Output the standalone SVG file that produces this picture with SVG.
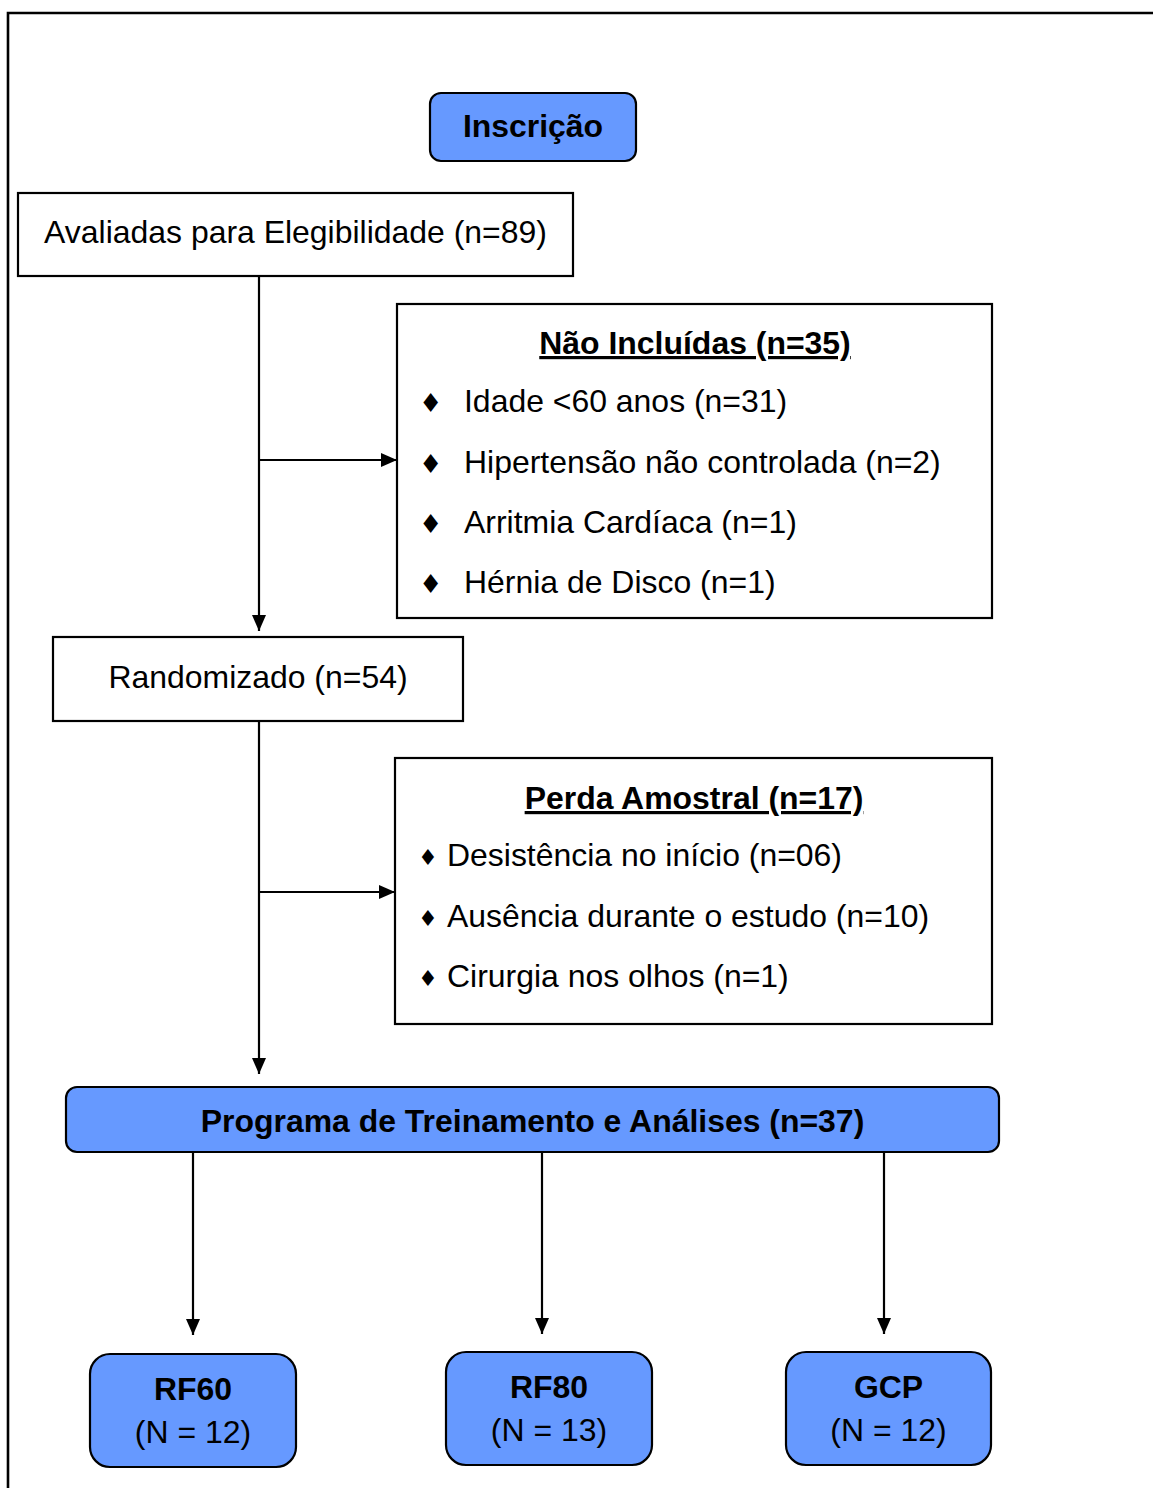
<svg xmlns="http://www.w3.org/2000/svg" width="1153" height="1488" viewBox="0 0 1153 1488">
<style>
.box{fill:#fff;stroke:#000;stroke-width:2.2}
.blue{fill:#6699FF;stroke:#000;stroke-width:2.2}
.t{font-family:"Liberation Sans",Arial,sans-serif;font-size:31.95px;fill:#000}
.b{font-weight:bold}
.c{text-anchor:middle}
.bul{font-family:"DejaVu Sans",sans-serif;font-size:26px;fill:#000}
.bul2{font-family:"DejaVu Sans",sans-serif;font-size:22px;fill:#000}
.ln{stroke:#000;stroke-width:2.2;fill:none}
</style>
<defs>
<marker id="ah" markerWidth="16" markerHeight="14" refX="16" refY="7" orient="auto" markerUnits="userSpaceOnUse" viewBox="0 0 16 14">
<path d="M0,0 L16,7 L0,14 Z" fill="#000"/>
</marker>
</defs>
<rect width="1153" height="1488" fill="#fff"/>
<path d="M8,1488 V13 H1153" fill="none" stroke="#000" stroke-width="2.6"/>

<g id="connectors">
<path class="ln" d="M259,276 V631" marker-end="url(#ah)"/>
<path class="ln" d="M259,460 H397" marker-end="url(#ah)"/>
<path class="ln" d="M259,721 V1074" marker-end="url(#ah)"/>
<path class="ln" d="M259,892 H395" marker-end="url(#ah)"/>
<path class="ln" d="M193,1152 V1335" marker-end="url(#ah)"/>
<path class="ln" d="M542,1152 V1334" marker-end="url(#ah)"/>
<path class="ln" d="M884,1152 V1334" marker-end="url(#ah)"/>
</g>

<g id="inscricao">
<rect class="blue" x="430" y="93" width="206" height="68" rx="11"/>
<text class="t b c" x="533" y="137">Inscrição</text>
</g>

<g id="avaliadas">
<rect class="box" x="18" y="193" width="555" height="83"/>
<text class="t c" x="295.5" y="243">Avaliadas para Elegibilidade (n=89)</text>
</g>

<g id="nao-incluidas">
<rect class="box" x="397" y="304" width="595" height="314"/>
<text class="t b c" x="695" y="354" text-decoration="underline">Não Incluídas (n=35)</text>
<text class="bul" x="419" y="412">♦</text>
<text class="t" x="464" y="412">Idade &lt;60 anos (n=31)</text>
<text class="bul" x="419" y="473">♦</text>
<text class="t" x="464" y="473">Hipertensão não controlada (n=2)</text>
<text class="bul" x="419" y="533">♦</text>
<text class="t" x="464" y="533">Arritmia Cardíaca (n=1)</text>
<text class="bul" x="419" y="593">♦</text>
<text class="t" x="464" y="593">Hérnia de Disco (n=1)</text>
</g>

<g id="randomizado">
<rect class="box" x="53" y="637" width="410" height="84"/>
<text class="t c" x="258" y="688">Randomizado (n=54)</text>
</g>

<g id="perda-amostral">
<rect class="box" x="395" y="758" width="597" height="266"/>
<text class="t b c" x="694" y="809" text-decoration="underline">Perda Amostral (n=17)</text>
<text class="bul2" x="418" y="865">♦</text>
<text class="t" x="447" y="866">Desistência no início (n=06)</text>
<text class="bul2" x="418" y="926">♦</text>
<text class="t" x="447" y="927">Ausência durante o estudo (n=10)</text>
<text class="bul2" x="418" y="986">♦</text>
<text class="t" x="447" y="987">Cirurgia nos olhos (n=1)</text>
</g>

<g id="programa">
<rect class="blue" x="66" y="1087" width="933" height="65" rx="11"/>
<text class="t b c" x="532.5" y="1132">Programa de Treinamento e Análises (n=37)</text>
</g>

<g id="rf60">
<rect class="blue" x="90" y="1354" width="206" height="113" rx="20"/>
<text class="t b c" x="193" y="1400">RF60</text>
<text class="t c" x="193" y="1443">(N = 12)</text>
</g>

<g id="rf80">
<rect class="blue" x="446" y="1352" width="206" height="113" rx="20"/>
<text class="t b c" x="549" y="1398">RF80</text>
<text class="t c" x="549" y="1441">(N = 13)</text>
</g>

<g id="gcp">
<rect class="blue" x="786" y="1352" width="205" height="113" rx="20"/>
<text class="t b c" x="888.5" y="1398">GCP</text>
<text class="t c" x="888.5" y="1441">(N = 12)</text>
</g>
</svg>
